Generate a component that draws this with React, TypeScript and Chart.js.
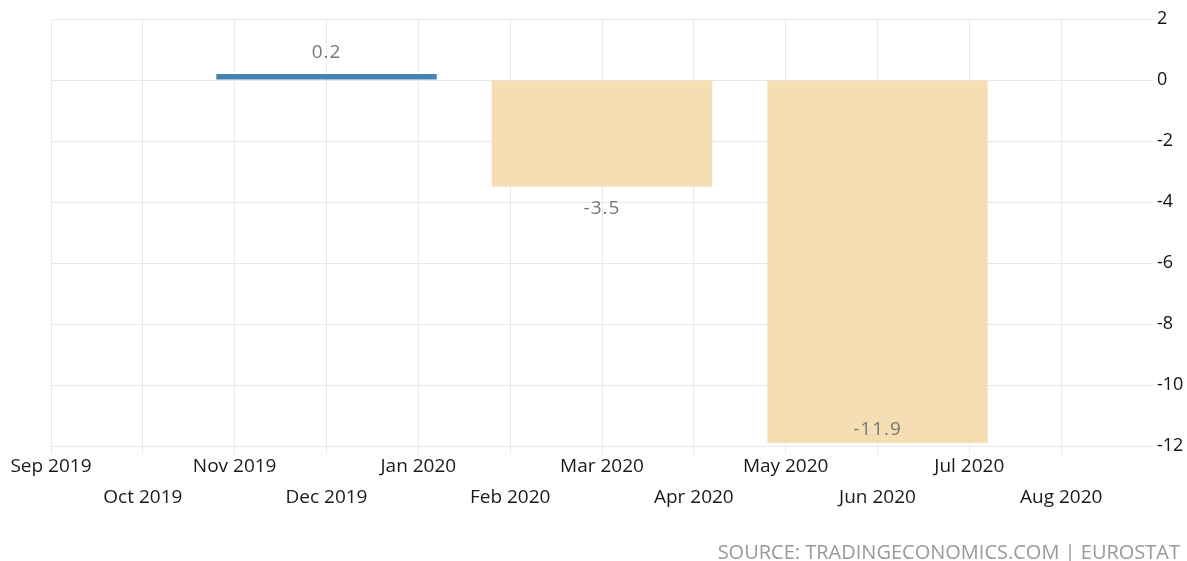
import React, { useEffect, useRef } from "react";
import { Chart, registerables } from "chart.js";

Chart.register(...registerables);

const monthLabels = [
  "Sep 2019", "Oct 2019", "Nov 2019", "Dec 2019", "Jan 2020", "Feb 2020",
  "Mar 2020", "Apr 2020", "May 2020", "Jun 2020", "Jul 2020", "Aug 2020",
];
const quarterLabels = ["Q4 2019", "Q1 2020", "Q2 2020"];
const quarterMidMonths = ["Dec 2019", "Mar 2020", "Jun 2020"];
const gdpGrowth = [0.2, -3.5, -11.9];
const yTicks = [2, 0, -2, -4, -6, -8, -10, -12];

const FONT = "'Open Sans', 'Noto Sans', sans-serif";
const GRID = "#e8e8e8";

const valueLabels = {
  id: "valueLabels",
  afterDatasetsDraw(chart: any) {
    const ctx = chart.ctx;
    const meta = chart.getDatasetMeta(0);
    const area = chart.chartArea;
    ctx.save();
    ctx.font = `19px ${FONT}`;
    try {
      (ctx as any).letterSpacing = "1px";
    } catch (e) {}
    ctx.fillStyle = "#777777";
    ctx.textAlign = "center";
    ctx.textBaseline = "middle";
    meta.data.forEach((el: any, i: number) => {
      const v = gdpGrowth[i];
      let y: number;
      if (v >= 0) {
        y = el.y - 21;
      } else {
        y = el.y + 22;
        if (y > area.bottom - 8) y = el.y - 13;
      }
      ctx.fillText(v.toFixed(1), el.x, y);
    });
    ctx.restore();
  },
};

export default function App() {
  const ref = useRef<HTMLCanvasElement | null>(null);

  useEffect(() => {
    if (!ref.current) return;
    const chart = new Chart(ref.current, {
      type: "bar",
      data: {
        labels: quarterLabels,
        datasets: [
          {
            label: "GDP Growth Rate",
            data: gdpGrowth.map((v, i) => ({ x: monthLabels.indexOf(quarterMidMonths[i]), y: v })),
            backgroundColor: gdpGrowth.map((v) => (v >= 0 ? "#4682b4" : "#f5deb3")),
            borderWidth: 0,
            barPercentage: 0.8,
            categoryPercentage: 1,
            xAxisID: "xq",
            yAxisID: "y",
          },
        ],
      },
      options: {
        responsive: false,
        animation: false,
        layout: { padding: { left: 51, top: 19, right: 0, bottom: 0 } },
        plugins: {
          legend: { display: false },
          tooltip: { enabled: false },
        },
        scales: {
          x: {
            type: "linear",
            min: 0,
            max: 12,
            offset: false,
            position: "bottom",
            afterBuildTicks: (s: any) => {
              s.ticks = monthLabels.map((_, i) => ({ value: i }));
            },
            afterFit: (s: any) => {
              s.height = 115;
            },
            ticks: {
              autoSkip: false,
              maxRotation: 0,
              minRotation: 0,
              padding: -3,
              color: "#1a1a1a",
              font: { family: FONT, size: 19, lineHeight: "31px" },
              callback: (_v: any, i: number) => (i % 2 === 0 ? monthLabels[i] : ["", monthLabels[i]]),
            },
            grid: { color: GRID, tickColor: GRID, tickLength: 8, drawTicks: true, offset: false },
            border: { display: false },
          },
          xq: {
            type: "linear",
            min: 0,
            max: 12,
            offset: false,
            display: false,
            grid: { offset: false },
            afterBuildTicks: (s: any) => {
              s.ticks = quarterMidMonths.map((m) => ({ value: monthLabels.indexOf(m) }));
            },
          },
          y: {
            position: "right",
            min: -12,
            max: 2,
            afterBuildTicks: (s: any) => {
              s.ticks = yTicks.map((v) => ({ value: v }));
            },
            afterFit: (s: any) => {
              s.width = 1187 - 1153;
            },
            ticks: {
              padding: 4,
              color: "#111111",
              font: { family: FONT, size: 18 },
            },
            grid: { color: GRID, drawTicks: false },
            border: { display: false },
          },
        },
      },
      plugins: [valueLabels],
    });
    return () => chart.destroy();
  }, []);

  return (
    <div style={{ position: "absolute", left: 0, top: 0, width: 1187, height: 561, background: "#ffffff" }}>
      <canvas ref={ref} width={1187} height={561} style={{ width: 1187, height: 561, display: "block" }} />
      <div
        style={{
          position: "absolute",
          right: 7,
          top: 539,
          fontFamily: FONT,
          fontSize: 20,
          color: "#999999",
          lineHeight: "26px",
          whiteSpace: "nowrap",
        }}
      >
        SOURCE: TRADINGECONOMICS.COM | EUROSTAT
      </div>
    </div>
  );
}
